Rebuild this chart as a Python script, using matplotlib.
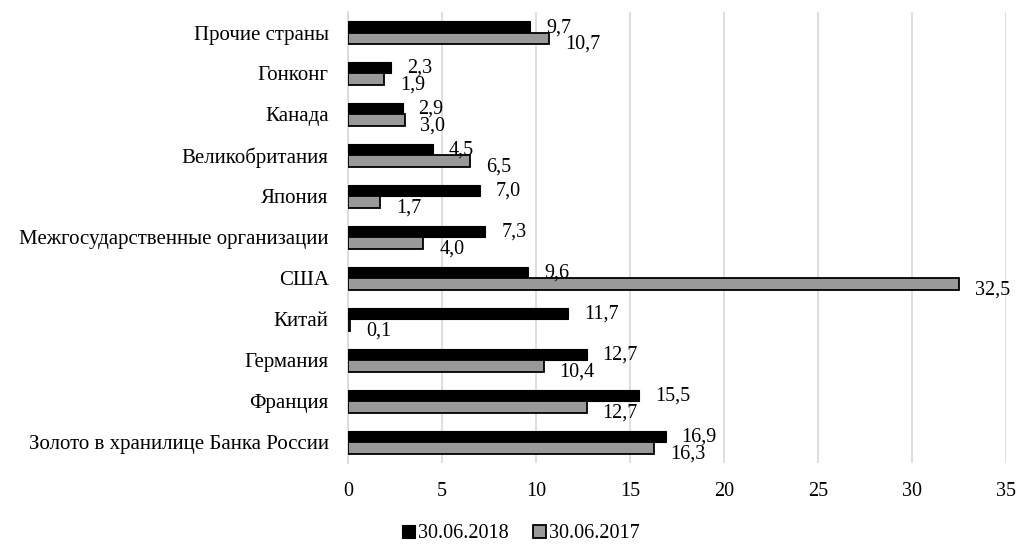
import numpy as np
import matplotlib.pyplot as plt

plt.rcParams['font.family'] = ['Liberation Serif', 'DejaVu Serif']

categories = ['Золото в хранилице Банка России', 'Франция', 'Германия', 'Китай', 'США',
              'Межгосударственные организации', 'Япония', 'Великобритания', 'Канада',
              'Гонконг', 'Прочие страны']
v2018 = [16.9, 15.5, 12.7, 11.7, 9.6, 7.3, 7.0, 4.5, 2.9, 2.3, 9.7]
v2017 = [16.3, 12.7, 10.4, 0.1, 32.5, 4.0, 1.7, 6.5, 3.0, 1.9, 10.7]
xticks = [0, 5, 10, 15, 20, 25, 30, 35]

fig = plt.figure(figsize=(10.24, 5.47), dpi=100)
ax = fig.add_axes([0.340, 0.154, 0.642, 0.824])

y = np.arange(len(categories))
h = 0.28
b1 = ax.barh(y + h / 2, v2018, height=h, color='black', edgecolor='black', linewidth=0.8,
             label='30.06.2018', zorder=3)
b2 = ax.barh(y - h / 2, v2017, height=h, color='#999999', edgecolor='black', linewidth=1.3,
             label='30.06.2017', zorder=3)

def fmt(v):
    return ('%.1f' % v).replace('.', ',')

# подписи значений: черные чуть выше, серые ниже
for yi, v in zip(y, v2018):
    ax.annotate(fmt(v), (v, yi + h / 2), xytext=(11.5, -3.8), textcoords='offset points',
                ha='left', va='baseline', fontsize=14.5)
for yi, v in zip(y, v2017):
    ax.annotate(fmt(v), (v, yi - h / 2), xytext=(11.5, -7.5), textcoords='offset points',
                ha='left', va='baseline', fontsize=14.5)

ax.set_xlim(0, 35)
ax.set_ylim(-0.5, len(categories) - 0.5)
ax.set_xticks(xticks)
ax.set_yticks(y)
ax.set_yticklabels(categories, fontsize=15)
ax.tick_params(axis='x', labelsize=14.5, length=0, pad=14)
ax.tick_params(axis='y', length=0, pad=14)
ax.grid(axis='x', color='#d9d9d9', linewidth=1.2, zorder=0)
for s in ['top', 'right', 'bottom']:
    ax.spines[s].set_visible(False)
ax.spines['left'].set_color('#d9d9d9')
ax.spines['left'].set_linewidth(1.2)

ax.legend(handles=[b1, b2], loc='center', bbox_to_anchor=(521 / 1024, 1 - 534 / 547),
          bbox_transform=fig.transFigure, ncol=2, frameon=False, fontsize=14.5,
          handlelength=0.65, handleheight=0.65, handletextpad=0.15, columnspacing=1.2,
          borderpad=0)

fig.savefig('out.png', dpi=100)
